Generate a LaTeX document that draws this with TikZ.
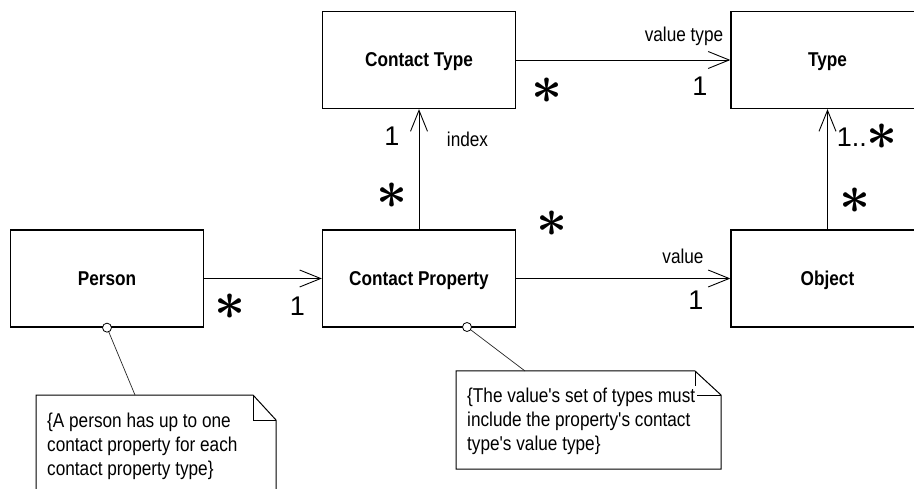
\documentclass[tikz,border=0pt]{standalone}
\usepackage{fontspec}
\usepackage{graphicx}
\setmainfont{Liberation Sans}
\newfontfamily\narrowfont[FakeStretch=0.86]{Liberation Sans}
\usetikzlibrary{arrows.meta}

% large six-spoke asterisk used for "many" multiplicities
\newcommand\manymark{{\normalsize\scalebox{5.4}{\boldmath$\ast$}}}

\begin{document}
\begin{tikzpicture}[x=1pt,y=-1pt,
  classbox/.style={draw=black, line width=1.3pt, minimum width=193pt,
    minimum height=97pt, inner sep=0pt, text height=14pt, text depth=0pt,
    font={\narrowfont\bfseries\fontsize{20}{24}\selectfont}},
  assoc/.style={draw=black, line width=0.9pt,
    -{Straight Barb[length=21pt,width=17pt]}},
  mult/.style={inner sep=0pt, font={\fontsize{27}{30}\selectfont}},
  role/.style={inner sep=0pt, anchor=base, font={\narrowfont\fontsize{20}{24}\selectfont}},
  notebox/.style={draw=black, line width=1pt},
  notetext/.style={inner sep=0pt, anchor=north west, align=left,
    font={\narrowfont\fontsize{20}{24}\selectfont}},
  noteline/.style={draw=black!85, line width=0.7pt},
  pin/.style={draw=black, line width=0.8pt, fill=white}
]
\path[use as bounding box] (0,0) rectangle (914,489);
\clip (0,0) rectangle (914,489);

% classes
\node[classbox] (ctype)  at (419,60)    {Contact Type};
\node[classbox] (type)   at (827.5,60)  {Type};
\node[classbox] (person) at (107,278.5) {Person};
\node[classbox] (cprop)  at (419,278.5) {Contact Property};
\node[classbox] (object) at (827.5,278.5) {Object};

% associations
\draw[assoc] (person) -- (cprop);
\draw[assoc] (cprop) -- (object);
\draw[assoc] (ctype) -- (type);
\draw[assoc] (cprop) -- (ctype);
\draw[assoc] (object) -- (type);

% multiplicities and role names
\node[mult] (m1) at (230,306.5) {\manymark};
\node[mult] (m2) at (297.5,306.5) {1};
\node[mult] (m3) at (392,136.5) {1};
\node[mult] (m4) at (392.5,196) {\manymark};
\node[role] (r1) at (467.5,146.7) {index};
\node[mult] (m5) at (547,91) {\manymark};
\node[mult] (m6) at (700,86.5) {1};
\node[role] (r2) at (684,41.7) {value type};
\node[mult] (m7) at (552,224) {\manymark};
\node[role] (r3) at (683,263.3) {value};
\node[mult] (m8) at (696,300) {1};
\node[mult, anchor=base] (m9) at (867.5,146.5) {1..\raisebox{-2.5pt}{\manymark}};
\node[mult] (m10) at (855,201) {\manymark};

% note on Person
\draw[notebox] (36,500) -- (36,395) -- (253,395) -- (276,420) -- (276,500);
\draw[notebox] (253,395) -- (253,420) -- (276,420);
\coordinate (n1top) at (135,395);
\node[notetext] (note1) at (47,412.4)
  {\{A person has up to one\\contact property for each\\contact property type\}};
\draw[noteline] (person.south) -- (n1top);
\draw[pin] (person.south) circle (4.5pt);

% note on Contact Property
\draw[notebox] (456,371) -- (695,371) -- (721,395) -- (721,469) -- (456,469) -- cycle;
\draw[notebox] (695,371) -- (695,395) -- (721,395);
\coordinate (cppin) at (467,327);
\coordinate (n2top) at (525,371);
\node[notetext, fill=white, inner sep=2pt] (note2) at (465,385.4)
  {\{The value's set of types must\\include the property's contact\\type's value type\}};
\draw[noteline] (cppin) -- (n2top);
\draw[pin] (cppin) circle (4.5pt);
\end{tikzpicture}
\end{document}
